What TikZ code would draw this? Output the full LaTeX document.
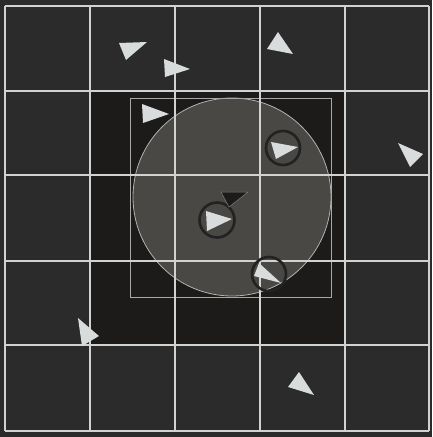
\documentclass[tikz,border=0pt]{standalone}
\begin{document}
\begin{tikzpicture}[x=1pt,y=-1pt,
  agent/.style={fill=agentc,draw=none},
  ring/.style={draw=ringc,line width=2.6pt},
  gridl/.style={draw=gridc,line width=1.8pt}]
\definecolor{bgc}{HTML}{2B2B2B}
\definecolor{darkc}{HTML}{1C1B19}
\definecolor{circc}{HTML}{4A4845}
\definecolor{gridc}{HTML}{D2D2D2}
\definecolor{agentc}{HTML}{D8DCDC}
\definecolor{ringc}{HTML}{222222}
\useasboundingbox (0,0) rectangle (432,437);
\fill[bgc] (0,0) rectangle (432,437);
% dark central region
\fill[darkc] (90,91) rectangle (345,345);
% sensing circle
\fill[circc] (232,197) circle (99);
\draw[gridc!85!black,line width=0.8pt] (232,197) circle (99);
% inner rectangle
\draw[gridc!80!black,line width=1pt] (130,98) rectangle (331,297);
% grid
\foreach \x in {5,90,175,260,345,429} \draw[gridl] (\x,6) -- (\x,431);
\foreach \y in {6,91,175,261,345,431} \draw[gridl] (5,\y) -- (429,\y);
% agents
\fill[agent] (119,43) -- (147,42) -- (126,60) -- cycle;
\fill[agent] (164,59) -- (190,69) -- (165,77) -- cycle;
\fill[agent] (142,104) -- (169,114) -- (143,123) -- cycle;
\fill[agent] (278,32) -- (293,54) -- (267,49) -- cycle;
\fill[agent] (398,143) -- (423,154) -- (410,167) -- cycle;
\fill[agent] (299,372) -- (314,395) -- (288,387) -- cycle;
\fill[agent] (78,318) -- (99,336) -- (82,346) -- cycle;
% ringed agents
\draw[ring] (283,148) circle (17);
\fill[agent] (271,142) -- (298,147) -- (276,159) -- cycle;
\draw[ring] (217,220) circle (17.5);
\fill[agent] (206,211) -- (232,219) -- (207,231) -- cycle;
\draw[ring] (269,274) circle (17);
\fill[agent] (259,263) -- (281,283) -- (254,276) -- cycle;
% dark agent
\fill[darkc,draw=gridc!60!black,line width=0.5pt] (221,192) -- (248,192) -- (229,207) -- cycle;
\end{tikzpicture}
\end{document}
